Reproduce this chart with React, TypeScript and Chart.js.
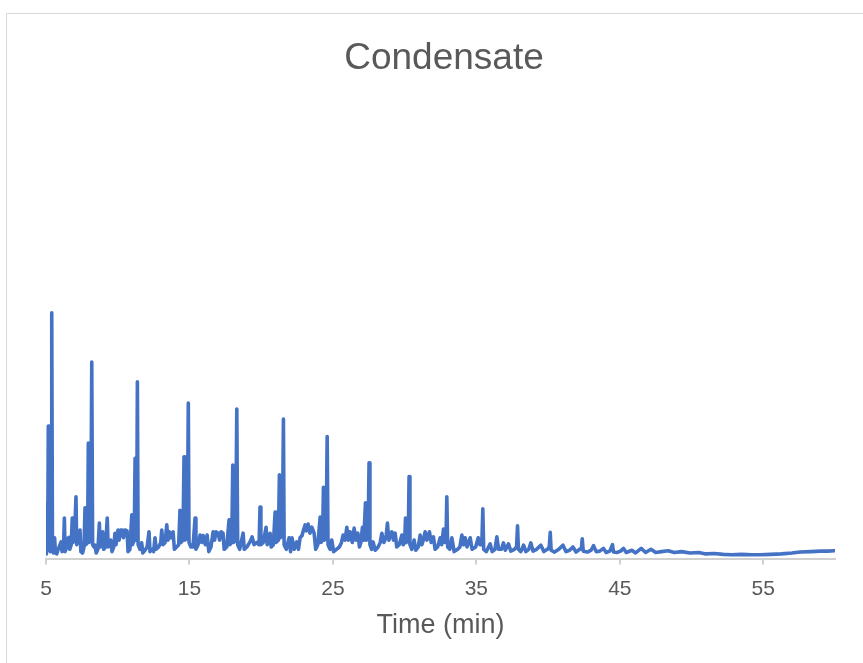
import React, { useEffect, useRef } from "react";
import { Chart, registerables } from "chart.js";

Chart.register(...registerables);

const TITLE = "Condensate";
const X_TITLE = "Time (min)";
const X_TICKS = [5, 15, 25, 35, 45, 55];

const TIME_MIN = [
  5.0, 5.01, 5.05, 5.12, 5.16, 5.2, 5.3, 5.36, 5.4, 5.45, 5.52,
  5.6, 5.66, 5.75, 5.85, 6.05, 6.12, 6.22, 6.28, 6.33, 6.45, 6.55, 6.6, 6.66, 6.76, 6.83, 6.88, 6.98,
  7.09, 7.14, 7.25, 7.37, 7.43, 7.55, 7.65, 7.72, 7.78, 7.9, 7.95, 8.0, 8.12, 8.19, 8.25, 8.35, 8.42,
  8.5, 8.62, 8.72, 8.78, 8.88, 8.95, 9.02, 9.15, 9.27, 9.33, 9.45, 9.51, 9.6, 9.72, 9.81, 9.88,
  10.02, 10.1, 10.2, 10.3, 10.4, 10.5, 10.65, 10.72, 10.85, 10.98, 11.03, 11.15, 11.21, 11.26, 11.32,
  11.37, 11.42, 11.55, 11.67, 11.75, 11.9, 12.05, 12.18, 12.25, 12.4, 12.5, 12.6, 12.68, 12.85, 13.0,
  13.07, 13.15, 13.3, 13.42, 13.5, 13.6, 13.7, 13.86, 13.95, 14.1, 14.25, 14.34, 14.4, 14.55, 14.62,
  14.67, 14.85, 14.92, 14.97, 15.1, 15.25, 15.39, 15.45, 15.6, 15.74, 15.85, 15.95, 16.1, 16.23, 16.35,
  16.5, 16.65, 16.75, 16.85, 17.0, 17.1, 17.2, 17.34, 17.42, 17.6, 17.76, 17.82, 17.95, 18.02, 18.08,
  18.22, 18.3, 18.36, 18.5, 18.74, 18.82, 19.0, 19.2, 19.37, 19.5, 19.7, 19.85, 19.92, 19.98, 20.15,
  20.34, 20.42, 20.55, 20.62, 20.7, 20.85, 20.97, 21.03, 21.2, 21.27, 21.33, 21.48, 21.55, 21.6, 21.75,
  21.95, 22.05, 22.15, 22.3, 22.48, 22.6, 22.71, 22.85, 22.95, 23.06, 23.15, 23.27, 23.4, 23.53, 23.69,
  23.8, 23.95, 24.11, 24.17, 24.28, 24.34, 24.4, 24.53, 24.6, 24.66, 24.8, 24.92, 25.05, 25.25, 25.45,
  25.6, 25.71, 25.85, 25.97, 26.08, 26.2, 26.35, 26.48, 26.6, 26.74, 26.85, 26.95, 27.06, 27.15, 27.27,
  27.33, 27.45, 27.52, 27.58, 27.7, 27.8, 27.95, 28.15, 28.3, 28.41, 28.55, 28.7, 28.8, 28.9, 29.0,
  29.11, 29.22, 29.34, 29.45, 29.62, 29.81, 29.9, 30.0, 30.06, 30.12, 30.25, 30.31, 30.37, 30.5, 30.66,
  30.78, 30.95, 31.08, 31.2, 31.3, 31.43, 31.55, 31.73, 31.85, 32.01, 32.12, 32.3, 32.48, 32.58, 32.71,
  32.8, 32.88, 32.94, 33.0, 33.15, 33.29, 33.45, 33.7, 33.85, 33.99, 34.1, 34.22, 34.35, 34.57, 34.7,
  34.95, 35.13, 35.25, 35.38, 35.45, 35.51, 35.7, 35.96, 36.1, 36.3, 36.43, 36.55, 36.75, 36.89, 37.02,
  37.24, 37.4, 37.65, 37.8, 37.87, 37.93, 38.1, 38.29, 38.45, 38.65, 38.8, 38.95, 39.2, 39.5, 39.7,
  39.95, 40.08, 40.15, 40.21, 40.45, 40.75, 41.03, 41.25, 41.5, 41.73, 41.95, 42.2, 42.32, 42.38, 42.45,
  42.75, 43.0, 43.17, 43.35, 43.6, 43.86, 44.05, 44.3, 44.49, 44.56, 44.8, 45.05, 45.26, 45.45, 45.84,
  46.1, 46.49, 46.8, 47.17, 47.5, 47.9, 48.37, 48.8, 49.3, 49.91, 50.5, 51.0, 51.6, 52.2, 52.77,
  53.5, 54.2, 54.79, 55.5, 56.26, 57.0, 57.58, 58.3, 59.0, 59.5, 59.95,
];

const SIGNAL = [
  1.0, 12.0, 1.5, 1.8, 28.8, 2.0, 1.5, 3.0, 53.4, 2.5, 1.2,
  4.5, 1.2, 1.0, 2.0, 3.6, 1.5, 2.0, 8.8, 1.5, 2.5, 4.5, 4.6, 2.0, 3.0, 8.8, 3.5, 4.0,
  13.4, 3.0, 4.0, 6.2, 1.5, 1.2, 2.5, 11.0, 3.0, 3.5, 25.1, 3.5, 4.0, 42.7, 3.0, 2.5, 2.9,
  1.2, 2.0, 7.7, 2.5, 3.5, 5.8, 2.0, 2.5, 8.8, 2.5, 3.0, 4.0, 1.5, 2.5, 5.5, 3.0,
  6.2, 4.0, 6.2, 6.2, 4.5, 6.2, 6.0, 1.5, 2.0, 9.5, 3.0, 4.0, 21.8, 4.0, 4.5,
  38.4, 3.0, 2.0, 3.4, 1.2, 1.8, 2.5, 5.8, 1.5, 2.0, 1.5, 4.5, 2.0, 2.5, 3.5,
  6.2, 3.0, 3.5, 7.3, 4.0, 5.8, 4.5, 5.8, 2.0, 2.5, 3.0, 10.5, 3.5, 4.0, 22.1,
  4.0, 4.5, 33.8, 3.5, 2.5, 2.5, 8.8, 2.0, 3.0, 5.1, 3.5, 5.0, 3.0, 5.1, 1.5,
  2.5, 5.8, 4.0, 5.8, 5.5, 4.0, 5.8, 5.5, 2.0, 2.5, 8.4, 3.0, 3.5, 20.3, 3.5,
  4.0, 32.5, 3.0, 2.0, 5.5, 2.0, 2.5, 3.5, 4.7, 3.0, 3.5, 3.0, 11.2, 3.0, 3.5,
  6.8, 3.0, 3.5, 5.5, 2.5, 3.0, 10.1, 3.5, 4.0, 18.2, 4.5, 5.0, 30.3, 3.0, 2.0,
  4.5, 1.5, 4.5, 2.0, 3.6, 2.0, 4.5, 5.0, 6.2, 7.3, 6.0, 7.5, 5.5, 6.8, 5.5,
  2.0, 3.0, 9.0, 3.5, 4.0, 15.5, 4.0, 4.5, 26.5, 3.0, 2.0, 4.0, 1.5, 2.0, 2.5,
  3.5, 5.1, 4.0, 6.8, 4.0, 5.8, 3.5, 6.6, 4.0, 5.5, 2.5, 3.5, 6.8, 4.0, 12.1,
  4.0, 4.5, 20.8, 3.0, 2.0, 3.6, 1.8, 2.5, 3.5, 5.5, 3.5, 4.5, 7.7, 4.0, 5.0,
  5.8, 4.0, 5.5, 2.5, 3.0, 5.1, 3.0, 3.5, 8.8, 3.5, 4.0, 17.8, 3.0, 2.0, 4.0,
  1.8, 2.5, 5.1, 3.0, 4.0, 5.8, 4.0, 5.8, 3.5, 4.7, 2.0, 2.5, 4.5, 3.0, 6.4,
  3.5, 3.5, 13.4, 2.5, 2.0, 4.5, 1.5, 2.0, 2.5, 5.1, 3.0, 4.5, 2.5, 4.5, 2.0,
  2.5, 4.5, 3.0, 3.0, 10.8, 2.0, 1.5, 3.2, 1.5, 2.0, 4.7, 2.0, 2.0, 3.4, 1.8,
  3.2, 1.6, 2.0, 2.5, 7.1, 2.0, 1.5, 2.9, 1.5, 2.0, 3.4, 1.6, 2.0, 2.9, 1.5,
  2.0, 2.5, 5.7, 1.8, 1.4, 2.0, 2.9, 1.5, 1.8, 2.5, 1.4, 2.0, 2.2, 4.3, 1.6,
  1.4, 1.8, 2.8, 1.5, 1.6, 2.2, 1.3, 1.6, 3.0, 1.4, 1.3, 1.6, 2.2, 1.3, 1.8,
  1.2, 2.2, 1.3, 2.0, 1.3, 1.5, 1.7, 1.3, 1.5, 1.2, 1.3, 1.0, 1.1, 0.9, 0.8,
  0.9, 0.8, 0.8, 0.9, 1.0, 1.2, 1.4, 1.5, 1.6, 1.6, 1.7,
];

const FONT = "'Liberation Sans', Arial, sans-serif";
const TEXT = "#595959";

export default function App() {
  const ref = useRef<HTMLCanvasElement>(null);

  useEffect(() => {
    const canvas = ref.current;
    if (!canvas) return;
    const chart = new Chart(canvas, {
      type: "line",
      data: {
        datasets: [
          {
            data: TIME_MIN.map((t, i) => ({ x: t, y: SIGNAL[i] })),
            borderColor: "#4472C4",
            borderWidth: 3.6,
            pointRadius: 0,
            tension: 0,
            fill: false,
            borderJoinStyle: "round",
            borderCapStyle: "round",
          },
        ],
      },
      options: {
        responsive: false,
        animation: false,
        devicePixelRatio: 1,
        layout: { padding: { left: 46, right: 21, top: 0, bottom: 0 } },
        plugins: {
          legend: { display: false },
          tooltip: { enabled: false },
          title: {
            display: true,
            text: TITLE,
            color: TEXT,
            font: { family: FONT, size: 37, weight: "normal" },
            padding: { top: 37, bottom: 17 },
          },
        },
        scales: {
          x: {
            type: "linear",
            min: 5,
            max: 60,
            afterBuildTicks: (s: any) => {
              s.ticks = X_TICKS.map((v) => ({ value: v }));
            },
            afterFit: (s: any) => {
              s.height = 104.5;
            },
            ticks: {
              color: TEXT,
              font: { family: FONT, size: 21 },
              padding: 12,
              maxRotation: 0,
              autoSkip: false,
            },
            grid: {
              display: true,
              drawOnChartArea: false,
              drawTicks: true,
              tickLength: 6,
              color: "#d0d0d0",
              lineWidth: 2,
            },
            border: { display: true, color: "#d0d0d0", width: 2 },
            title: {
              display: true,
              text: X_TITLE,
              color: TEXT,
              font: { family: FONT, size: 27 },
              padding: { top: 0, bottom: 21 },
            },
          },
          y: {
            position: "right",
            min: 0,
            max: 100,
            ticks: { display: false },
            grid: { display: false },
            border: { display: false },
            afterFit: (s: any) => {
              s.width = 7;
            },
          },
        },
      },
    });
    return () => chart.destroy();
  }, []);

  return (
    <>
      <div
        style={{
          position: "fixed",
          left: 6,
          top: 13,
          width: 1000,
          height: 1000,
          border: "1px solid #d9d9d9",
          boxSizing: "border-box",
        }}
      />
      <canvas
        ref={ref}
        width={863}
        height={663}
        style={{ position: "fixed", left: 0, top: 0, width: 863, height: 663 }}
      />
    </>
  );
}
